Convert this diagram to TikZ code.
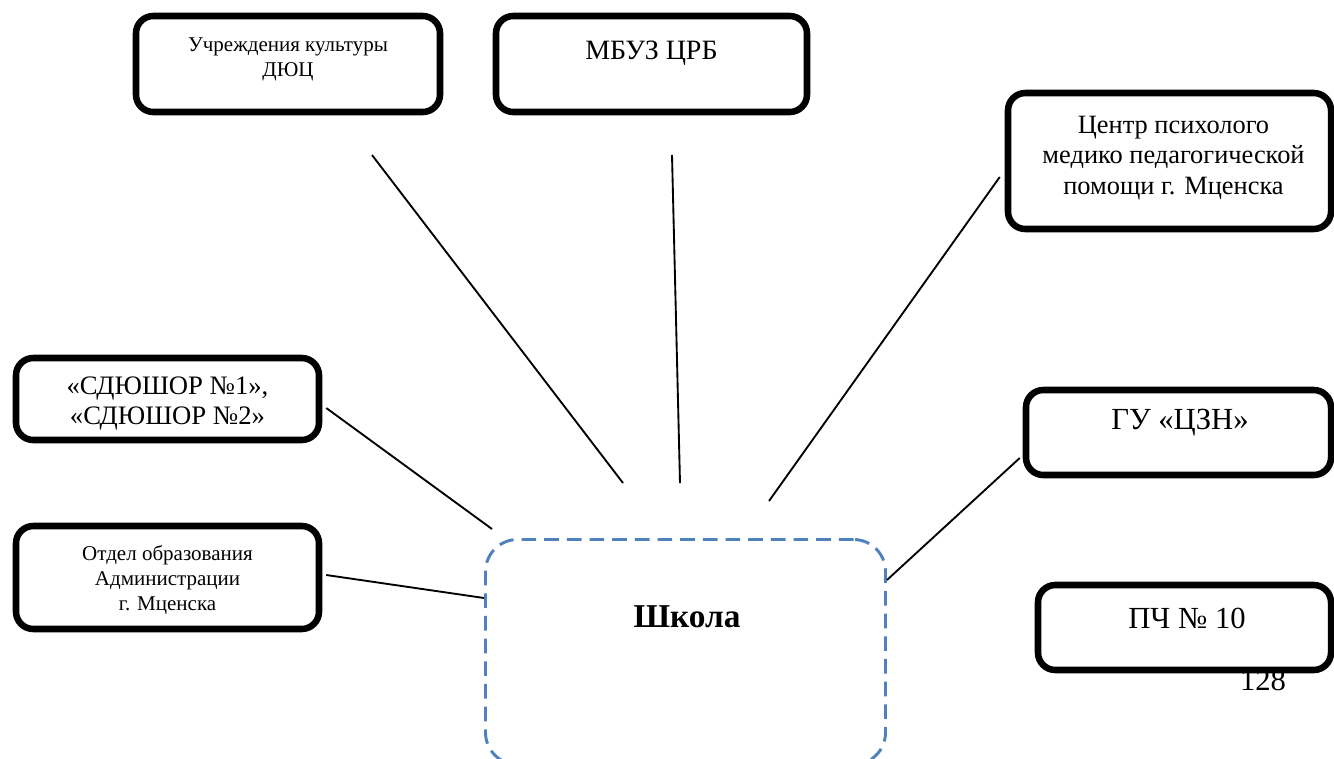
\documentclass[tikz,border=0pt]{standalone}
\usepackage{fontspec}
\setmainfont{Liberation Serif}
\usepackage{xcolor}
\usetikzlibrary{positioning,calc}

\definecolor{dashblue}{HTML}{4F81BD}
\tikzset{
    orgbox/.style={draw, line width=4.9pt, rounded corners=13pt, fill=white, inner sep=0pt},
    schoolbox/.style={draw=dashblue, line width=2.2pt, dash pattern=on 11pt off 6pt, rounded corners=24pt, inner sep=0pt},
    link/.style={line width=1.4pt},
    smalltext/.style={align=center, font={\fontsize{15.75}{18.75}\selectfont}},
    midtext/.style={align=center, font={\fontsize{20}{22.5}\selectfont}},
    bigtext/.style={align=center, font={\fontsize{23}{26}\selectfont}}
}

\begin{document}
\begin{tikzpicture}[x=0.75pt, y=-0.75pt]
    \useasboundingbox (0,0) rectangle (1334,758);
    \clip (0,0) rectangle (1334,758);

    % Page number under the box
    \node[bigtext, anchor=base] (page) at (1263,690) {128};

    % Boxes
    \node[orgbox, minimum width=228pt, minimum height=72pt] (kult) at (288,64) {};
    \node[orgbox, minimum width=233.25pt, minimum height=72pt] (mbuz) at (651.5,64) {};
    \node[orgbox, minimum width=242.25pt, minimum height=102pt] (centr) at (1169.5,161) {};
    \node[orgbox, minimum width=227.25pt, minimum height=61.5pt] (sdyu) at (167.5,399) {};
    \node[orgbox, minimum width=227.25pt, minimum height=77.25pt] (otdel) at (167.5,577.5) {};
    \node[orgbox, minimum width=228.75pt, minimum height=63.75pt] (gu) at (1178.5,432.5) {};
    \node[orgbox, minimum width=219.75pt, minimum height=63.75pt] (pch) at (1184.5,627.5) {};
    \node[schoolbox, minimum width=300pt, minimum height=168.75pt] (school) at (685.5,652) {};

    % Texts
    \node[smalltext] (kult-t) at ($(kult)+(0,-5)$) {Учреждения культуры\\ДЮЦ};
    \node[align=center, font={\fontsize{21}{24}\selectfont}] (mbuz-t) at ($(mbuz)+(0,-11)$) {МБУЗ ЦРБ};
    \node[align=center, font={\fontsize{19.8}{23}\selectfont}] (centr-t) at ($(centr)+(4,-3)$) {Центр психолого\\медико педагогической\\помощи г. Мценска};
    \node[midtext] (sdyu-t) at ($(sdyu)+(0,4)$) {«СДЮШОР №1»,\\«СДЮШОР №2»};
    \node[smalltext] (otdel-t) at ($(otdel)+(0,2.5)$) {Отдел образования\\Администрации\\г. Мценска};
    \node[bigtext] (gu-t) at ($(gu)+(1.5,-9.5)$) {ГУ «ЦЗН»};
    \node[bigtext] (pch-t) at ($(pch)+(2.5,-9.5)$) {ПЧ № 10};
    \node[font={\fontsize{25}{28}\selectfont\bfseries}] (school-t) at ($(school)+(1.5,-35)$) {Школа};

    % Free ends of the links
    \coordinate (kult-a) at (372,155);
    \coordinate (kult-b) at (623,483);
    \coordinate (mbuz-a) at (672,155);
    \coordinate (mbuz-b) at (680,483);
    \coordinate (centr-b) at (769,501);
    \coordinate (sdyu-b) at (492,529);

    % Links
    \draw[link] (kult-a) -- (kult-b);
    \draw[link] (mbuz-a) -- (mbuz-b);
    \draw[link] ($(centr.west)+(-5,16)$) -- (centr-b);
    \draw[link] ($(sdyu.east)+(4,9)$) -- (sdyu-b);
    \draw[link] ($(otdel.east)+(4,-2.5)$) -- ($(school.west)+(0,-54)$);
    \draw[link] ($(gu.west)+(-3,25.5)$) -- ($(school.east)+(0,-72)$);
\end{tikzpicture}
\end{document}
